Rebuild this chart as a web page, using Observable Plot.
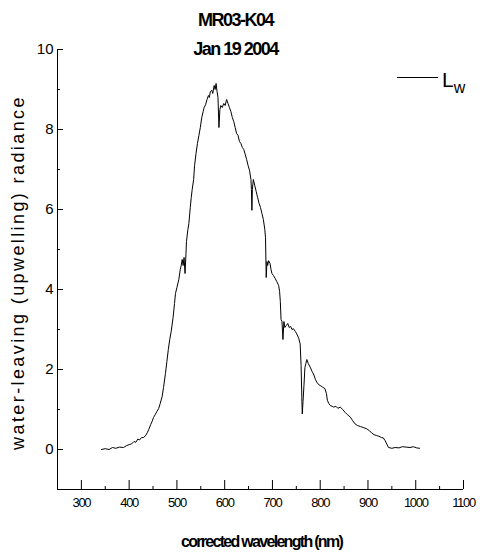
<!DOCTYPE html>
<html>
<head>
<meta charset="utf-8">
<script src="https://cdn.jsdelivr.net/npm/d3@7"></script>
<script src="https://cdn.jsdelivr.net/npm/@observablehq/plot@0.6"></script>
<style>
  html, body { margin: 0; padding: 0; background: white; }
</style>
</head>
<body>
<div id="chart"></div>
<script>
const title1 = "MR03-K04";
const title2 = "Jan 19 2004";
const xLabel = "corrected wavelength (nm)";
const yLabel = "water-leaving (upwelling) radiance";
const legendMain = "L";
const legendSub = "w";

const xMajor = [300, 400, 500, 600, 700, 800, 900, 1000, 1100];
const xMinor = [350, 450, 550, 650, 750, 850, 950, 1050];
const yMajor = [0, 2, 4, 6, 8, 10];
const yMinor = [1, 3, 5, 7, 9];

const wavelength = [
  342, 350, 358, 365, 372, 380, 388, 395, 400, 405, 410, 414, 418, 422, 426, 430, 434, 438, 441, 445,
  448, 451, 455, 458, 462, 465, 469, 472, 476, 479, 482, 485, 488, 492, 495, 497, 500, 504, 507, 509,
  511, 513, 515, 517, 519, 520, 523, 525, 528, 530, 532, 535, 537, 540, 543, 546, 549, 552, 555, 557,
  560, 563, 566, 568, 570, 573, 575, 578, 580, 582, 584, 586, 588, 590, 592, 595, 598, 601, 604, 607,
  610, 613, 616, 619, 622, 625, 628, 631, 634, 637, 640, 643, 646, 649, 652, 655, 656, 657, 658, 660,
  663, 666, 669, 672, 675, 678, 681, 684, 685.5, 687, 688.5, 690, 692, 695, 697, 699, 702, 706, 709, 713,
  715, 716.5, 718, 720, 722, 724, 726, 729, 732, 735, 738, 741, 744, 748, 751, 755, 758, 760, 761.5, 762.5,
  764, 766, 768, 770, 772, 775, 779, 783, 786, 790, 793, 797, 800, 805, 810, 813, 815, 818, 821, 825,
  828, 833, 837, 842, 847, 852, 857, 863, 868, 873, 878, 884, 890, 897, 903, 908, 913, 918, 923, 928,
  932, 936, 940, 943, 950, 957, 965, 972, 980, 988, 995, 1002, 1008
];
const radiance = [
  0.00, 0.02, 0.00, 0.05, 0.03, 0.06, 0.05, 0.10, 0.12, 0.14, 0.20, 0.18, 0.26, 0.24, 0.30, 0.30, 0.34, 0.42, 0.50, 0.62,
  0.70, 0.80, 0.88, 0.95, 1.03, 1.15, 1.32, 1.55, 1.90, 2.20, 2.50, 2.75, 2.95, 3.30, 3.65, 3.90, 4.05, 4.25, 4.50, 4.60,
  4.75, 4.60, 4.80, 4.40, 4.90, 5.20, 5.50, 5.65, 6.05, 6.30, 6.50, 6.75, 7.10, 7.40, 7.65, 7.85, 8.05, 8.30, 8.45, 8.55,
  8.62, 8.75, 8.85, 8.80, 8.95, 8.98, 8.90, 9.10, 9.00, 9.15, 8.95, 8.80, 8.05, 8.50, 8.60, 8.55, 8.65, 8.60, 8.75, 8.65,
  8.55, 8.45, 8.30, 8.20, 8.05, 7.90, 7.85, 7.70, 7.65, 7.55, 7.50, 7.38, 7.25, 7.10, 6.98, 6.75, 6.50, 5.98, 6.50, 6.75,
  6.60, 6.45, 6.30, 6.15, 6.05, 5.90, 5.75, 5.50, 5.30, 4.30, 4.70, 4.60, 4.72, 4.65, 4.50, 4.40, 4.35, 4.27, 4.20, 4.10,
  3.95, 3.70, 3.25, 3.20, 2.75, 3.20, 3.05, 3.10, 3.15, 3.05, 3.08, 3.00, 3.02, 2.95, 2.89, 2.78, 2.64, 2.10, 1.30, 0.89,
  1.20, 1.60, 2.05, 2.15, 2.25, 2.15, 2.06, 1.95, 1.89, 1.75, 1.68, 1.62, 1.60, 1.56, 1.52, 1.40, 1.23, 1.15, 1.10, 1.08,
  1.06, 1.08, 1.03, 1.06, 1.00, 0.93, 0.87, 0.81, 0.72, 0.64, 0.60, 0.575, 0.55, 0.52, 0.47, 0.41, 0.37, 0.35, 0.33, 0.30,
  0.29, 0.22, 0.12, 0.05, 0.03, 0.05, 0.04, 0.07, 0.06, 0.05, 0.07, 0.04, 0.03
];

const data = wavelength.map((w, i) => ({wl: w, lw: radiance[i]}));

const font = "Arial, 'Liberation Sans', sans-serif";

const chart = Plot.plot({
  width: 482,
  height: 554,
  marginLeft: 57,
  marginRight: 19,
  marginTop: 49,
  marginBottom: 65,
  style: {fontFamily: font, background: "white", color: "black", overflow: "visible"},
  x: {domain: [250, 1100]},
  y: {domain: [-1, 10]},
  marks: [
    Plot.axisX({ticks: xMajor, tickSize: -9, tickPadding: 17, tickFormat: d => String(d), label: null, fontSize: 13}),
    Plot.axisX({ticks: xMinor, tickSize: -3, tickFormat: () => "", label: null}),
    Plot.axisY({ticks: yMajor, tickSize: -6, tickPadding: 10, tickFormat: d => String(d), label: null, fontSize: 15}),
    Plot.axisY({ticks: yMinor, tickSize: -3, tickFormat: () => "", label: null}),
    Plot.ruleX([250], {stroke: "black"}),
    Plot.ruleY([-1], {stroke: "black"}),
    Plot.line(data, {x: "wl", y: "lw", stroke: "black", strokeWidth: 1}),
    Plot.text([title1], {frameAnchor: "top", lineAnchor: "middle", textAnchor: "middle", dx: -25, dy: -29.5, fontWeight: "bold", fontSize: 18, text: d => d}),
    Plot.text([title2], {frameAnchor: "top", lineAnchor: "middle", textAnchor: "middle", dx: -25, dy: 0, fontWeight: "bold", fontSize: 18, text: d => d}),
    Plot.text([xLabel], {frameAnchor: "bottom", lineAnchor: "middle", textAnchor: "middle", dx: 1, dy: 52, fontWeight: "bold", fontSize: 16, text: d => d}),
    Plot.text([yLabel], {frameAnchor: "left", lineAnchor: "middle", textAnchor: "middle", rotate: -90, dx: -39, dy: 3, fontSize: 18, text: d => d})
  ]
});

const svg = d3.select(chart);
svg.selectAll('g[aria-label="x-axis tick label"]').attr("letter-spacing", "-1.3px");
svg.selectAll('g[aria-label="text"]').each(function() {
  const g = d3.select(this);
  const t = g.text();
  if (t === title1 || t === title2) g.attr("letter-spacing", "-1.5px");
  if (t === xLabel) g.attr("letter-spacing", "-1.7px");
  if (t === yLabel) g.attr("letter-spacing", "2.4px");
});

// legend
const leg = svg.append("g").attr("aria-label", "legend");
leg.append("line").attr("x1", 397).attr("x2", 438).attr("y1", 77.5).attr("y2", 77.5)
  .attr("stroke", "black").attr("stroke-width", 1);
const lt = leg.append("text").attr("x", 442).attr("y", 86.5).attr("text-anchor", "start")
  .attr("font-family", font).attr("font-size", 21).attr("fill", "black");
lt.append("tspan").text(legendMain);
lt.append("tspan").attr("dy", 6).attr("font-size", 16).text(legendSub);

document.getElementById("chart").appendChild(chart);
</script>
</body>
</html>
